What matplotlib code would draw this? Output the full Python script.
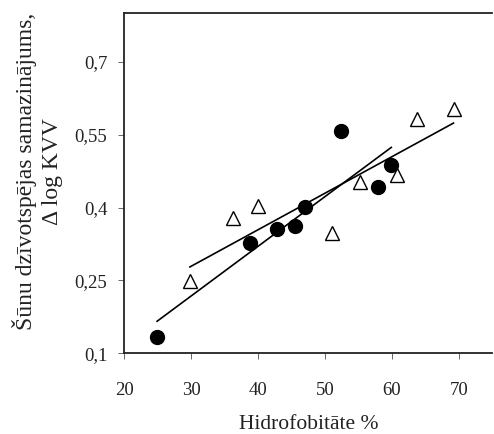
import numpy as np
import matplotlib
matplotlib.use("Agg")
import matplotlib.pyplot as plt

# apļi (pildīti) un trijstūri (tukši)
x_circ = [24.9, 38.8, 42.8, 45.5, 47.0, 52.4, 57.9, 59.9]
y_circ = [0.134, 0.327, 0.356, 0.362, 0.401, 0.557, 0.442, 0.488]
x_tri = [29.8, 36.3, 40.0, 51.0, 55.2, 60.8, 63.8, 69.2]
y_tri = [0.248, 0.379, 0.403, 0.348, 0.452, 0.468, 0.582, 0.604]

x_ticks = [20, 30, 40, 50, 60, 70]
y_ticks = [0.1, 0.25, 0.4, 0.55, 0.7]
y_ticklabels = ["0,1", "0,25", "0,4", "0,55", "0,7"]

plt.rcParams['font.family'] = ['Liberation Serif', 'DejaVu Serif']

fig = plt.figure(figsize=(4.94, 4.34), dpi=100)
ax = fig.add_axes([0.2516, 0.186, 0.745, 0.783])

# regresijas taisnes
for xs, ys in [(x_circ, y_circ), (x_tri, y_tri)]:
    k, b = np.polyfit(xs, ys, 1)
    xx = np.array([min(xs), max(xs)])
    ax.plot(xx, k * xx + b, color='black', lw=1.2, zorder=2)

ax.plot(x_circ, y_circ, 'o', ms=10, color='black', zorder=3)
ax.plot(x_tri, y_tri, '^', ms=10.5, mfc='white', mec='black', mew=1.0, zorder=3)

ax.set_xlim(20, 75)
ax.set_ylim(0.1, 0.8)
ax.set_xticks(x_ticks)
ax.set_yticks(y_ticks)
ax.set_yticklabels(y_ticklabels)
ax.tick_params(axis='both', direction='out', length=4.3, width=0.7,
               labelsize=13.5, colors='#666666', labelcolor='#222222')
ax.tick_params(axis='x', pad=16.5)
ax.tick_params(axis='y', pad=8)
ax.spines['right'].set_visible(False)
for s in ['left', 'top', 'bottom']:
    ax.spines[s].set_linewidth(1.3)
    ax.spines[s].set_color('#222222')

ax.set_xlabel('Hidrofobitāte %', fontsize=15.5, color='#222222')
ax.xaxis.set_label_coords(0.5, -0.181)
ax.set_ylabel('Šūnu dzīvotspējas samazinājums,\nΔ log KVV', fontsize=17,
              color='#222222', linespacing=1.3)
ax.yaxis.set_label_coords(-0.166, 0.536)

fig.savefig('out.png', dpi=100)
